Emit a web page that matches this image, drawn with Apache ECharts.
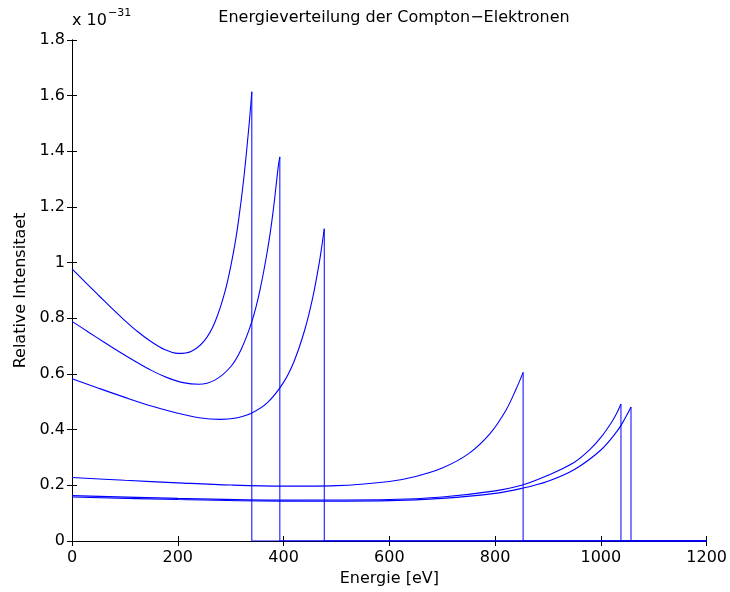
<!DOCTYPE html>
<html>
<head>
<meta charset="utf-8">
<script src="https://cdn.jsdelivr.net/npm/echarts@6/dist/echarts.min.js"></script>
<style>
html,body{margin:0;padding:0;background:#fff;}
#c{width:730px;height:592px;}
</style>
</head>
<body>
<div id="c"></div>
<script>
// x ticks and y ticks (values in units of 1e-31)
const xTicks = [0, 200, 400, 600, 800, 1000, 1200];
const yTicks = [0, 0.2, 0.4, 0.6, 0.8, 1, 1.2, 1.4, 1.6, 1.8];

// Compton edges and peak values
const edges = [340, 393, 477, 853, 1038, 1057];
const peaks = [1.614, 1.38, 1.122, 0.606, 0.492, 0.481];

// Curve A (edge 340)
const aX = [0, 25, 50, 75, 100, 125, 150, 175, 200, 225, 250, 270, 290, 305, 315, 325, 335, 340];
const aY = [0.978, 0.930, 0.883, 0.837, 0.792, 0.751, 0.716, 0.688, 0.674, 0.681, 0.719, 0.785, 0.901, 1.034, 1.153, 1.306, 1.499, 1.614];

// Curve B (edge 393)
const bX = [0, 30, 60, 90, 120, 150, 180, 210, 240, 270, 300, 320, 340, 355, 370, 380, 390, 393];
const bY = [0.789, 0.752, 0.715, 0.679, 0.645, 0.613, 0.587, 0.569, 0.563, 0.578, 0.626, 0.689, 0.788, 0.898, 1.049, 1.180, 1.345, 1.38];

// Curve C (edge 477)
const cX = [0, 50, 100, 150, 200, 240, 280, 310, 340, 370, 400, 420, 440, 455, 465, 470, 477];
const cY = [0.583, 0.549, 0.516, 0.485, 0.459, 0.443, 0.437, 0.442, 0.460, 0.498, 0.570, 0.646, 0.758, 0.873, 0.972, 1.029, 1.122];

// Curve D (edge 853)
const dX = [0, 100, 200, 300, 400, 500, 600, 650, 700, 750, 790, 820, 840, 853];
const dY = [0.228, 0.218, 0.209, 0.201, 0.197, 0.199, 0.214, 0.232, 0.262, 0.314, 0.385, 0.468, 0.547, 0.606];

// Curve E (edge 1038)
const eX = [0, 200, 400, 600, 700, 800, 850, 900, 950, 980, 1000, 1020, 1030, 1038];
const eY = [0.163, 0.153, 0.147, 0.149, 0.158, 0.180, 0.200, 0.236, 0.283, 0.330, 0.372, 0.426, 0.459, 0.492];

// Curve F (edge 1057)
const fX = [0, 200, 400, 600, 700, 800, 850, 900, 950, 1000, 1030, 1045, 1057];
const fY = [0.158, 0.149, 0.143, 0.145, 0.153, 0.171, 0.189, 0.215, 0.257, 0.327, 0.393, 0.438, 0.481];

const curves = [[aX, aY], [bX, bY], [cX, cY], [dX, dY], [eX, eY], [fX, fY]];
const xMax = xTicks[xTicks.length - 1];

const FONT = 'DejaVu Sans';
const BLUE = '#0000ff';

const series = [];
curves.forEach(function (c, i) {
  series.push({
    type: 'line', xAxisIndex: 0, yAxisIndex: 0,
    data: c[0].map(function (x, k) { return [x, c[1][k]]; }),
    smooth: 0.35, showSymbol: false, silent: true,
    lineStyle: { color: BLUE, width: 1.1 }, z: 5
  });
  series.push({
    type: 'line', xAxisIndex: 0, yAxisIndex: 0,
    data: [[edges[i], peaks[i]], [edges[i], 0], [xMax, 0]],
    smooth: false, showSymbol: false, silent: true,
    lineStyle: { color: BLUE, width: 1 }, z: 5
  });
});

const axisCommon = {
  axisLine: { show: true, lineStyle: { color: '#000', width: 1 } },
  axisTick: { show: true, inside: true, length: 5, lineStyle: { color: '#000' } },
  splitLine: { show: false }
};

const chart = echarts.init(document.getElementById('c'), null, { renderer: 'canvas' });
chart.setOption({
  animation: false,
  backgroundColor: '#fff',
  title: {
    text: 'Energieverteilung der Compton\u2212Elektronen',
    left: 389, top: 5, textAlign: 'center',
    textStyle: { fontFamily: FONT, fontSize: 16, fontWeight: 'normal', color: '#000' }
  },
  grid: { left: 72, right: 23, top: 40, bottom: 51, containLabel: false },
  xAxis: [
    Object.assign({
      type: 'value', position: 'bottom', min: xTicks[0], max: xMax, interval: 200,
      name: 'Energie [eV]', nameLocation: 'middle', nameGap: 29,
      nameTextStyle: { fontFamily: FONT, fontSize: 16, color: '#000' },
      axisLabel: { show: true, margin: 9, fontFamily: FONT, fontSize: 16, color: '#000',
        formatter: function (v) { return String(v); } }
    }, axisCommon),
    Object.assign({
      type: 'value', position: 'top', min: xTicks[0], max: xMax, interval: 200,
      axisLabel: { show: false }
    }, axisCommon)
  ],
  yAxis: [
    Object.assign({
      type: 'value', position: 'left', min: yTicks[0], max: yTicks[yTicks.length - 1], interval: 0.2,
      name: 'Relative Intensitaet', nameLocation: 'middle', nameGap: 43, nameRotate: 90,
      nameTextStyle: { fontFamily: FONT, fontSize: 16, color: '#000' },
      axisLabel: { show: true, margin: 7, fontFamily: FONT, fontSize: 16, color: '#000',
        formatter: function (v) { return String(Math.round(v * 10) / 10); } }
    }, axisCommon),
    Object.assign({
      type: 'value', position: 'right', min: yTicks[0], max: yTicks[yTicks.length - 1], interval: 0.2,
      axisLabel: { show: false }
    }, axisCommon)
  ],
  graphic: [{
    type: 'text', left: 72, top: 8,
    style: {
      text: '{a|x 10}{b|\u221231}',
      rich: {
        a: { fontFamily: FONT, fontSize: 16, color: '#000', padding: [8, 0, 0, 0] },
        b: { fontFamily: FONT, fontSize: 11, color: '#000', padding: [0, 0, 6, 1] }
      }
    }
  }],
  series: series
});
</script>
</body>
</html>
